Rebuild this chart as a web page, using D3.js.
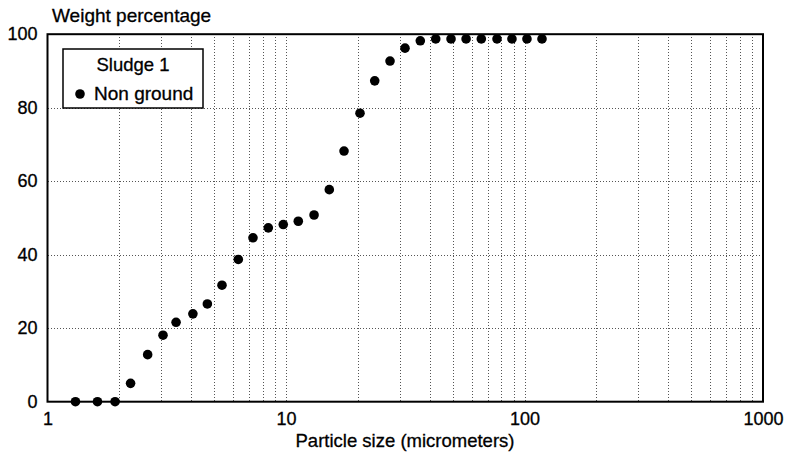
<!DOCTYPE html>
<html>
<head>
<meta charset="utf-8">
<script src="https://cdn.jsdelivr.net/npm/d3@7"></script>
<style>
  body { margin: 0; background: #fff; }
  svg { display: block; font-family: "Liberation Sans", Arial, Helvetica, sans-serif; }
  text { stroke: #000; stroke-width: 0.3px; fill: #000; }
</style>
</head>
<body>
<svg id="chart" width="787" height="467"></svg>
<script>
// Particle size distribution, Sludge 1 (non ground)
const particleSize = [1.31, 1.62, 1.92, 2.23, 2.63, 3.05, 3.46, 4.07, 4.68, 5.39,
  6.31, 7.27, 8.43, 9.74, 11.26, 13.11, 15.19, 17.51, 20.43, 23.55, 27.30,
  31.55, 36.57, 42.44, 49.2, 56.9, 65.9, 76.7, 88.6, 102.4, 118.4];
const weightPct = [0, 0, 0, 5.0, 12.8, 18.1, 21.6, 23.9, 26.6, 31.7,
  38.7, 44.6, 47.3, 48.2, 49.1, 50.8, 57.7, 68.2, 78.5, 87.3, 92.7,
  96.2, 98.2, 98.7, 98.7, 98.7, 98.7, 98.7, 98.7, 98.7, 98.7];
const xTickValues = [1, 10, 100, 1000];
const xTickLabels = ["1", "10", "100", "1000"];
const yTickValues = [0, 20, 40, 60, 80, 100];
const seriesName = "Non ground";
const legendTitle = "Sludge 1";
const yTitle = "Weight percentage";
const xTitle = "Particle size (micrometers)";

const svg = d3.select("#chart");
const margin = { left: 47.5, right: 24, top: 34.2, bottom: 65.3 };
const W = 787, H = 467;

const x = d3.scaleLog().domain([1, 1000]).range([margin.left, W - margin.right]);
const y = d3.scaleLinear().domain([0, 100]).range([H - margin.bottom, margin.top]);

// minor grid values: 2..9 within each decade plus the inner decades
const gridX = [];
for (let dec = 1; dec < 1000; dec *= 10) {
  for (let k = 1; k <= 9; k++) {
    const v = dec * k;
    if (v > 1 && v < 1000) gridX.push(v);
  }
}

const grid = svg.append("g").attr("stroke", "#555").attr("stroke-width", 1)
  .attr("stroke-dasharray", "1,2").attr("shape-rendering", "crispEdges");
grid.selectAll("line.v").data(gridX).join("line")
  .attr("class", "v")
  .attr("x1", d => Math.round(x(d)) + 0.5).attr("x2", d => Math.round(x(d)) + 0.5)
  .attr("y1", y(100)).attr("y2", y(0));
grid.selectAll("line.h").data(yTickValues.filter(d => d > 0 && d < 100)).join("line")
  .attr("class", "h")
  .attr("x1", x(1)).attr("x2", x(1000))
  .attr("y1", d => Math.round(y(d)) + 0.5).attr("y2", d => Math.round(y(d)) + 0.5);

// plot frame
svg.append("rect")
  .attr("x", x(1)).attr("y", y(100))
  .attr("width", x(1000) - x(1)).attr("height", y(0) - y(100))
  .attr("fill", "none").attr("stroke", "#000").attr("stroke-width", 2);

// axes (labels only, frame drawn above)
const xAxis = d3.axisBottom(x).tickValues(xTickValues)
  .tickFormat((d, i) => xTickLabels[i]).tickSize(0).tickPadding(11);
const gx = svg.append("g").attr("transform", `translate(0,${y(0)})`).call(xAxis);
gx.select(".domain").remove();
gx.selectAll("text").attr("font-size", 18).attr("fill", "#000")
  .attr("font-family", "Liberation Sans, Arial, sans-serif");

const yAxis = d3.axisLeft(y).tickValues(yTickValues).tickSize(0).tickPadding(10);
const gy = svg.append("g").attr("transform", `translate(${x(1)},0)`).call(yAxis);
gy.select(".domain").remove();
gy.selectAll("text").attr("font-size", 18).attr("fill", "#000")
  .attr("font-family", "Liberation Sans, Arial, sans-serif");

// data points
svg.append("g").selectAll("circle")
  .data(particleSize.map((d, i) => [d, weightPct[i]]))
  .join("circle")
  .attr("cx", d => x(d[0])).attr("cy", d => y(d[1]))
  .attr("r", 4.8).attr("fill", "#000");

// titles
svg.append("text").attr("x", 52).attr("y", 22)
  .attr("font-size", 19).text(yTitle);
svg.append("text").attr("x", 405).attr("y", 446.5).attr("text-anchor", "middle")
  .attr("font-size", 18.5).text(xTitle);

// legend
const lg = svg.append("g");
lg.append("rect").attr("x", 63).attr("y", 49).attr("width", 140).attr("height", 59)
  .attr("fill", "#fff").attr("stroke", "#000").attr("stroke-width", 1.5);
lg.append("text").attr("x", 133).attr("y", 71).attr("text-anchor", "middle")
  .attr("font-size", 18.5).text(legendTitle);
lg.append("circle").attr("cx", 80).attr("cy", 94).attr("r", 4.8).attr("fill", "#000");
lg.append("text").attr("x", 94).attr("y", 100).attr("font-size", 19).text(seriesName);
</script>
</body>
</html>
